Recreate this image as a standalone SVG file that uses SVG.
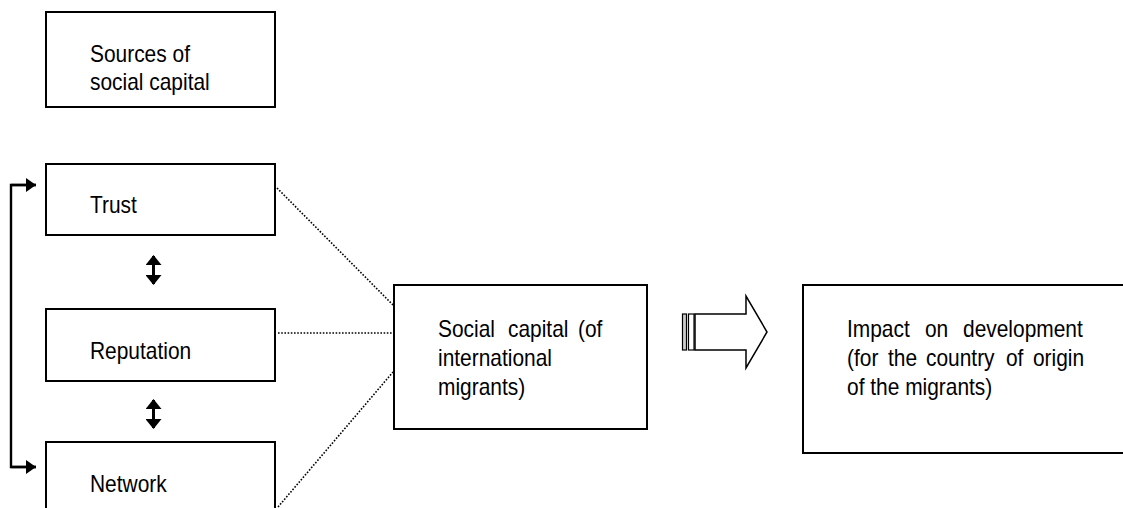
<svg xmlns="http://www.w3.org/2000/svg" width="1123" height="508" viewBox="0 0 1123 508">
<style>
.box{fill:#fff;stroke:#000;stroke-width:2}
.t{font-family:"Liberation Sans",Arial,sans-serif;font-size:23px;fill:#000}
.dot{stroke:#000;stroke-width:1.6;stroke-dasharray:1.6 1.6;fill:none}
.solid{stroke:#000;stroke-width:2.4;fill:none}
.dbl{stroke:#000;stroke-width:3;fill:none}
</style>
<defs>
<marker id="ah" viewBox="0 0 10 14" refX="10" refY="7" markerWidth="10" markerHeight="14" markerUnits="userSpaceOnUse" orient="auto">
<path d="M0,0 L10,7 L0,14 Z" fill="#000"/>
</marker>
<marker id="dh" viewBox="0 0 10 16" refX="9" refY="8" markerWidth="10" markerHeight="16" markerUnits="userSpaceOnUse" orient="auto-start-reverse">
<path d="M0,0 L10,8 L0,16 Z" fill="#000"/>
</marker>
</defs>
<rect width="1123" height="508" fill="#fff"/>
<g id="connectors">
<path class="solid" d="M36,185 H11 V467 H36" />
<path class="solid" d="M11,185 H36" marker-end="url(#ah)"/>
<path class="solid" d="M11,467 H36" marker-end="url(#ah)"/>
<line class="dbl" x1="153.5" y1="256" x2="153.5" y2="284" marker-start="url(#dh)" marker-end="url(#dh)"/>
<line class="dbl" x1="153.5" y1="400" x2="153.5" y2="428" marker-start="url(#dh)" marker-end="url(#dh)"/>
<line class="dot" x1="277" y1="188" x2="393" y2="305"/>
<line class="dot" x1="278" y1="333" x2="393" y2="333"/>
<line class="dot" x1="278" y1="507" x2="393" y2="372"/>
<g id="block-arrow">
<rect x="682.5" y="314" width="4" height="36" fill="#ccc" stroke="#000" stroke-width="1.2"/>
<rect x="688.5" y="314" width="5.5" height="36" fill="#fff" stroke="#000" stroke-width="1.2"/>
<path d="M695,314 H746 V296 L767,332 L746,368 V350 H695 Z" fill="#fff" stroke="#000" stroke-width="1.5" stroke-linejoin="miter"/>
</g>
</g>
<g id="sources">
<rect class="box" x="46" y="12" width="229" height="95"/>
<text class="t" transform="translate(90,62) scale(0.91,1)">Sources of</text>
<text class="t" transform="translate(90,90) scale(0.91,1)">social capital</text>
</g>
<g id="trust">
<rect class="box" x="46" y="164" width="229" height="71"/>
<text class="t" transform="translate(90,213) scale(0.91,1)">Trust</text>
</g>
<g id="reputation">
<rect class="box" x="46" y="309" width="229" height="72"/>
<text class="t" transform="translate(90,359) scale(0.91,1)">Reputation</text>
</g>
<g id="network">
<rect class="box" x="46" y="442" width="229" height="80"/>
<text class="t" transform="translate(90,492) scale(0.91,1)">Network</text>
</g>
<g id="social-capital">
<rect class="box" x="394" y="285" width="253" height="144"/>
<text class="t" transform="translate(438,337) scale(0.91,1)"><tspan x="0">Social</tspan><tspan x="76.9">capital</tspan><tspan x="153.8">(of</tspan></text>
<text class="t" transform="translate(438,366) scale(0.91,1)">international</text>
<text class="t" transform="translate(438,395) scale(0.91,1)">migrants)</text>
</g>
<g id="impact">
<rect class="box" x="803" y="285" width="330" height="168"/>
<text class="t" transform="translate(847,337) scale(0.91,1)"><tspan x="0">Impact</tspan><tspan x="85.7">on</tspan><tspan x="127.5">development</tspan></text>
<text class="t" transform="translate(847,366) scale(0.91,1)"><tspan x="0">(for</tspan><tspan x="45">the</tspan><tspan x="86.8">country</tspan><tspan x="174.7">of</tspan><tspan x="204.4">origin</tspan></text>
<text class="t" transform="translate(847,395) scale(0.91,1)">of the migrants)</text>
</g>
</svg>
